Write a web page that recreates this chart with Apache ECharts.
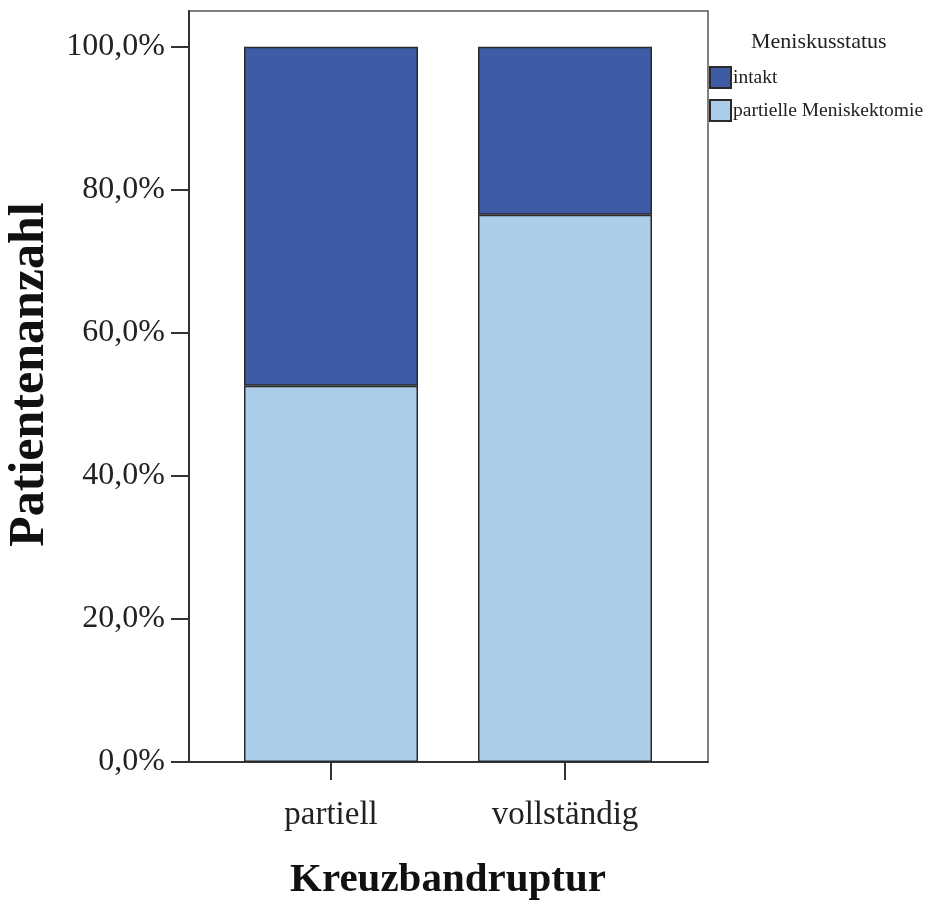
<!DOCTYPE html>
<html>
<head>
<meta charset="utf-8">
<script src="https://cdn.jsdelivr.net/npm/echarts@6/dist/echarts.min.js"></script>
<style>
  html, body { margin: 0; padding: 0; background: #fff; }
  #chart { width: 930px; height: 901px; }
</style>
</head>
<body>
<div id="chart"></div>
<script>
var categories = ['partiell', 'vollständig'];
var partielleMeniskektomie = [52.6, 76.5];
var intakt = [47.4, 23.5];
var yTicks = [0, 20, 40, 60, 80, 100];

var serif = '"Liberation Serif", "Times New Roman", serif';
var chart = echarts.init(document.getElementById('chart'));

// grid 0 = frame with the percent axis, grid 1 = inner area holding the categories
var option = {
    backgroundColor: '#fff',
    animation: false,
    title: {
        text: 'Meniskusstatus',
        left: 746,
        top: 26,
        textStyle: {
            fontFamily: serif,
            fontSize: 22,
            fontWeight: 'normal',
            color: '#222'
        }
    },
    legend: {
        orient: 'vertical',
        left: 709,
        top: 66,
        icon: 'rect',
        itemWidth: 21,
        itemHeight: 21,
        itemGap: 10,
        padding: 0,
        data: ['intakt', 'partielle Meniskektomie'],
        textStyle: {
            fontFamily: serif,
            fontSize: 19.5,
            color: '#222',
            padding: [0, 0, 0, -3]
        }
    },
    grid: [
        {
            left: 189,
            top: 11,
            width: 519,
            height: 751,
            outerBoundsMode: 'none',
            containLabel: false,
            show: true,
            borderColor: '#555',
            borderWidth: 1.5
        },
        {
            left: 214,
            top: 11,
            width: 468,
            height: 751,
            outerBoundsMode: 'none',
            containLabel: false
        }
    ],
    xAxis: [
        {
            gridIndex: 0,
            type: 'value',
            min: 0,
            max: 1,
            axisLine: { show: true, lineStyle: { color: '#333', width: 2 } },
            axisTick: { show: false },
            axisLabel: { show: false },
            splitLine: { show: false }
        },
        {
            gridIndex: 1,
            type: 'category',
            data: categories,
            name: 'Kreuzbandruptur',
            nameLocation: 'middle',
            nameGap: 98,
            nameTextStyle: {
                fontFamily: serif,
                fontSize: 41,
                fontWeight: 'bold',
                color: '#111'
            },
            axisLine: { show: true, lineStyle: { color: '#333', width: 2 } },
            axisTick: {
                show: true,
                alignWithLabel: true,
                length: 18,
                lineStyle: { color: '#333', width: 2 }
            },
            axisLabel: {
                margin: 37,
                fontFamily: serif,
                fontSize: 33,
                color: '#222'
            }
        }
    ],
    yAxis: [
        {
            gridIndex: 0,
            type: 'value',
            min: 0,
            max: 105,
            interval: 20,
            name: 'Patientenanzahl',
            nameLocation: 'middle',
            nameGap: 134,
            nameTextStyle: {
                fontFamily: serif,
                fontSize: 50,
                fontWeight: 'bold',
                color: '#111',
                padding: [0, 0, 0, 24]
            },
            splitLine: { show: false },
            axisLine: { show: true, lineStyle: { color: '#333', width: 2 } },
            axisTick: {
                show: true,
                length: 18,
                customValues: yTicks,
                lineStyle: { color: '#333', width: 2 }
            },
            axisLabel: {
                margin: 24,
                customValues: yTicks,
                fontFamily: serif,
                fontSize: 32,
                color: '#222',
                formatter: function (v) {
                    return v.toFixed(1).replace('.', ',') + '%';
                }
            }
        },
        {
            gridIndex: 1,
            type: 'value',
            min: 0,
            max: 105,
            show: false
        }
    ],
    series: [
        {
            name: 'partielle Meniskektomie',
            type: 'bar',
            stack: 'total',
            xAxisIndex: 1,
            yAxisIndex: 1,
            barWidth: 174,
            data: partielleMeniskektomie,
            itemStyle: { color: '#abcde9', borderColor: '#2a2a2a', borderWidth: 1.5 }
        },
        {
            name: 'intakt',
            type: 'bar',
            stack: 'total',
            xAxisIndex: 1,
            yAxisIndex: 1,
            barWidth: 174,
            data: intakt,
            itemStyle: { color: '#3e5ba6', borderColor: '#2a2a2a', borderWidth: 1.5 }
        }
    ]
};
chart.setOption(option);
</script>
</body>
</html>
